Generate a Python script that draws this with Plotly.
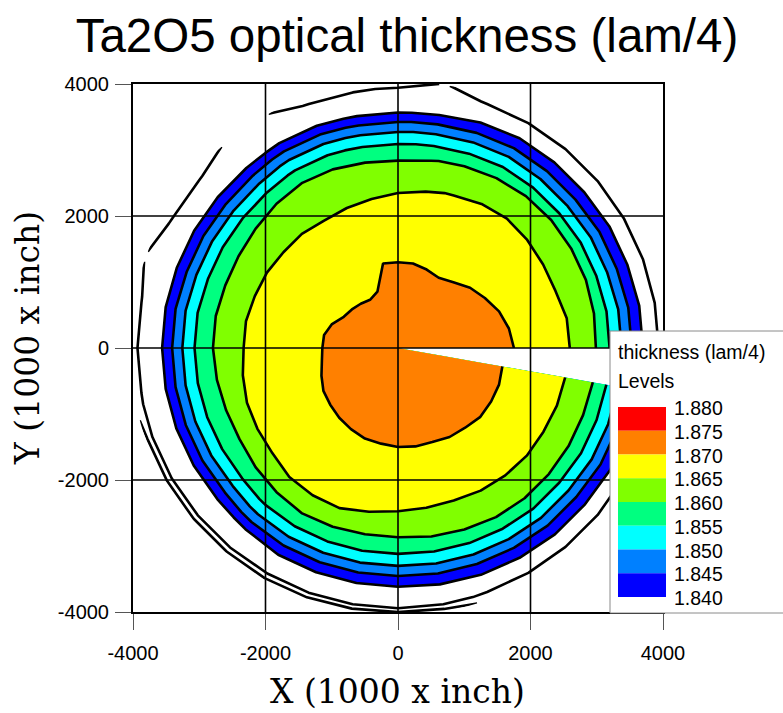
import numpy as np
import plotly.graph_objects as go

# ---------------- data ----------------
# polar measurement grid of the wafer: radius (1000 x inch) and angle (deg)
radius = [0, 700, 1300, 1900, 2450, 2900, 3100, 3280, 3430, 3570, 3750, 3940, 4050]
angle_deg = [0, 10, 20, 30, 40, 50, 60, 70, 80, 90, 100, 110, 120, 130, 140, 150, 160, 170,
             180, 190, 200, 210, 220, 230, 240, 250, 260, 270, 280, 290, 300, 310, 320, 330, 340, 350]

# optical thickness (lam/4): one row per angle, one column per radius
thickness = [
    [1.8735, 1.8721, 1.8709, 1.8697, 1.8664, 1.8620, 1.8574, 1.8528, 1.8484, 1.8436, 1.8385, 1.8349, 1.8320],
    [1.8735, 1.8721, 1.8708, 1.8696, 1.8660, 1.8627, 1.8575, 1.8528, 1.8484, 1.8436, 1.8385, 1.8349, 1.8320],
    [1.8735, 1.8720, 1.8707, 1.8694, 1.8653, 1.8636, 1.8575, 1.8523, 1.8479, 1.8430, 1.8383, 1.8349, 1.8320],
    [1.8735, 1.8719, 1.8705, 1.8691, 1.8653, 1.8636, 1.8575, 1.8523, 1.8479, 1.8430, 1.8383, 1.8349, 1.8320],
    [1.8735, 1.8718, 1.8703, 1.8688, 1.8653, 1.8639, 1.8573, 1.8519, 1.8474, 1.8424, 1.8381, 1.8349, 1.8320],
    [1.8735, 1.8716, 1.8700, 1.8676, 1.8656, 1.8631, 1.8571, 1.8519, 1.8474, 1.8424, 1.8381, 1.8349, 1.8320],
    [1.8735, 1.8715, 1.8698, 1.8674, 1.8656, 1.8618, 1.8568, 1.8519, 1.8474, 1.8424, 1.8381, 1.8349, 1.8320],
    [1.8735, 1.8716, 1.8699, 1.8674, 1.8651, 1.8607, 1.8559, 1.8511, 1.8464, 1.8413, 1.8378, 1.8349, 1.8320],
    [1.8735, 1.8716, 1.8700, 1.8673, 1.8648, 1.8598, 1.8552, 1.8503, 1.8454, 1.8402, 1.8376, 1.8356, 1.8354],
    [1.8735, 1.8716, 1.8700, 1.8672, 1.8645, 1.8593, 1.8548, 1.8498, 1.8448, 1.8399, 1.8375, 1.8351, 1.8320],
    [1.8735, 1.8716, 1.8700, 1.8670, 1.8642, 1.8595, 1.8548, 1.8498, 1.8448, 1.8399, 1.8375, 1.8349, 1.8320],
    [1.8735, 1.8708, 1.8685, 1.8663, 1.8643, 1.8598, 1.8552, 1.8503, 1.8454, 1.8402, 1.8376, 1.8349, 1.8320],
    [1.8735, 1.8706, 1.8681, 1.8662, 1.8642, 1.8599, 1.8552, 1.8503, 1.8454, 1.8402, 1.8376, 1.8356, 1.8354],
    [1.8735, 1.8707, 1.8683, 1.8663, 1.8643, 1.8595, 1.8544, 1.8493, 1.8443, 1.8397, 1.8374, 1.8356, 1.8354],
    [1.8735, 1.8708, 1.8685, 1.8663, 1.8643, 1.8589, 1.8540, 1.8488, 1.8437, 1.8395, 1.8373, 1.8349, 1.8320],
    [1.8735, 1.8709, 1.8687, 1.8664, 1.8644, 1.8584, 1.8540, 1.8488, 1.8437, 1.8395, 1.8373, 1.8349, 1.8320],
    [1.8735, 1.8712, 1.8692, 1.8666, 1.8644, 1.8583, 1.8540, 1.8488, 1.8437, 1.8395, 1.8373, 1.8356, 1.8354],
    [1.8735, 1.8713, 1.8695, 1.8668, 1.8645, 1.8586, 1.8544, 1.8493, 1.8443, 1.8397, 1.8374, 1.8349, 1.8320],
    [1.8735, 1.8714, 1.8695, 1.8668, 1.8645, 1.8586, 1.8544, 1.8493, 1.8443, 1.8397, 1.8374, 1.8349, 1.8320],
    [1.8735, 1.8714, 1.8696, 1.8670, 1.8647, 1.8582, 1.8544, 1.8493, 1.8443, 1.8397, 1.8374, 1.8349, 1.8320],
    [1.8735, 1.8715, 1.8698, 1.8672, 1.8649, 1.8578, 1.8544, 1.8493, 1.8443, 1.8397, 1.8374, 1.8353, 1.8285],
    [1.8735, 1.8716, 1.8700, 1.8673, 1.8650, 1.8578, 1.8544, 1.8493, 1.8443, 1.8397, 1.8374, 1.8353, 1.8285],
    [1.8735, 1.8717, 1.8701, 1.8684, 1.8654, 1.8586, 1.8544, 1.8493, 1.8443, 1.8397, 1.8374, 1.8353, 1.8285],
    [1.8735, 1.8717, 1.8702, 1.8687, 1.8667, 1.8592, 1.8552, 1.8503, 1.8454, 1.8402, 1.8376, 1.8353, 1.8285],
    [1.8735, 1.8718, 1.8703, 1.8688, 1.8670, 1.8599, 1.8555, 1.8507, 1.8459, 1.8408, 1.8377, 1.8353, 1.8285],
    [1.8735, 1.8718, 1.8704, 1.8689, 1.8672, 1.8597, 1.8555, 1.8507, 1.8459, 1.8408, 1.8377, 1.8353, 1.8280],
    [1.8735, 1.8718, 1.8704, 1.8690, 1.8660, 1.8595, 1.8555, 1.8507, 1.8459, 1.8408, 1.8377, 1.8352, 1.8270],
    [1.8735, 1.8719, 1.8705, 1.8690, 1.8653, 1.8596, 1.8555, 1.8507, 1.8459, 1.8408, 1.8377, 1.8352, 1.8260],
    [1.8735, 1.8719, 1.8705, 1.8691, 1.8651, 1.8600, 1.8558, 1.8511, 1.8464, 1.8413, 1.8378, 1.8352, 1.8275],
    [1.8735, 1.8719, 1.8705, 1.8691, 1.8651, 1.8606, 1.8562, 1.8515, 1.8469, 1.8419, 1.8380, 1.8349, 1.8310],
    [1.8735, 1.8719, 1.8706, 1.8692, 1.8654, 1.8614, 1.8566, 1.8519, 1.8474, 1.8424, 1.8381, 1.8349, 1.8320],
    [1.8735, 1.8720, 1.8706, 1.8693, 1.8656, 1.8617, 1.8570, 1.8523, 1.8479, 1.8430, 1.8383, 1.8349, 1.8320],
    [1.8735, 1.8720, 1.8707, 1.8694, 1.8658, 1.8617, 1.8570, 1.8523, 1.8479, 1.8430, 1.8383, 1.8349, 1.8320],
    [1.8735, 1.8720, 1.8707, 1.8694, 1.8658, 1.8616, 1.8572, 1.8528, 1.8484, 1.8436, 1.8385, 1.8349, 1.8320],
    [1.8735, 1.8720, 1.8707, 1.8694, 1.8660, 1.8616, 1.8572, 1.8528, 1.8484, 1.8436, 1.8385, 1.8349, 1.8320],
    [1.8735, 1.8720, 1.8707, 1.8693, 1.8660, 1.8620, 1.8574, 1.8528, 1.8484, 1.8436, 1.8385, 1.8349, 1.8320],
]

# contour levels (lines) and the coloured levels shown in the legend
contour_start, contour_end, contour_step = 1.830, 1.880, 0.005
legend_levels = [1.840, 1.845, 1.850, 1.855, 1.860, 1.865, 1.870, 1.875, 1.880]
level_colors = ["#0000FF", "#0080FF", "#00FFFF", "#00FF80",
                "#80FF00", "#FFFF00", "#FF8000", "#FF0000"]

tick_vals = [-4000, -2000, 0, 2000, 4000]
grid_vals = [-2000, 0, 2000]

title_text = "Ta2O5 optical thickness (lam/4)"
x_title = "X (1000 x inch)"
y_title = "Y (1000 x inch)"
legend_title = "thickness (lam/4)"
legend_sub = "Levels"

# ---------------- layout geometry (pixels) ----------------
W, H = 783, 713
ML, MR, MT, MB = 133, 120, 84, 101
PW, PH = W - ML - MR, H - MT - MB


def px2x(px):
    return (px - ML) / PW


def py2y(py):
    return (H - MB - py) / PH


SANS = "Arial, Liberation Sans, sans-serif"
SERIF = "DejaVu Serif, serif"

# ---------------- colour scale for filled contours ----------------
n_lev = int(round((contour_end - contour_start) / contour_step)) + 1
lo = contour_start - contour_step / 2.0
span = n_lev * contour_step


def pos(v):
    return round((v - lo) / span, 6)


colorscale = [[0.0, "#FFFFFF"], [pos(legend_levels[0]), "#FFFFFF"]]
for i, col in enumerate(level_colors):
    colorscale.append([pos(legend_levels[i]), col])
    colorscale.append([pos(legend_levels[i + 1]), col])
colorscale.append([1.0, level_colors[-1]])

# ---------------- carpet (polar grid) ----------------
r = np.asarray(radius, dtype=float)
th = np.deg2rad(np.asarray(angle_deg, dtype=float))
X = np.outer(np.cos(th), r)
Y = np.outer(np.sin(th), r)

hidden_axis = dict(showgrid=False, showline=False, startline=False, endline=False,
                   showticklabels="none", minorgridcount=0)

fig = go.Figure()
fig.add_trace(go.Carpet(
    a=radius, b=angle_deg, x=X.tolist(), y=Y.tolist(), carpet="wafer",
    aaxis=dict(hidden_axis, smoothing=0),
    baxis=dict(hidden_axis, smoothing=1),
))
fig.add_trace(go.Contourcarpet(
    carpet="wafer", a=radius, b=angle_deg, z=thickness,
    autocontour=False,
    contours=dict(start=contour_start, end=contour_end, size=contour_step,
                  coloring="fill", showlines=True),
    line=dict(color="black", width=2.6, smoothing=0),
    colorscale=colorscale, showscale=False,
))

# ---------------- grid lines drawn over the map ----------------
shapes = []
for v in grid_vals:
    shapes.append(dict(type="line", xref="x", yref="paper", x0=v, x1=v, y0=0, y1=1,
                       line=dict(color="black", width=1.6), layer="above"))
    shapes.append(dict(type="line", xref="paper", yref="y", x0=0, x1=1, y0=v, y1=v,
                       line=dict(color="black", width=1.6), layer="above"))

# ---------------- legend box ----------------
annotations = []
box_left, box_top, box_bottom = 610, 331, 613
shapes.append(dict(type="rect", xref="paper", yref="paper",
                   x0=px2x(box_left), x1=px2x(W + 20), y0=py2y(box_bottom), y1=py2y(box_top),
                   fillcolor="white", line=dict(color="#8a8a8a", width=1), layer="above"))
annotations.append(dict(xref="paper", yref="paper", x=px2x(616), y=py2y(352),
                        xanchor="left", yanchor="middle", showarrow=False,
                        text=legend_title, font=dict(family=SANS, size=19.5, color="black")))
annotations.append(dict(xref="paper", yref="paper", x=px2x(616), y=py2y(381),
                        xanchor="left", yanchor="middle", showarrow=False,
                        text=legend_sub, font=dict(family=SANS, size=19.5, color="black")))

sw_top, sw_h, sw_left, sw_right = 407.0, 23.75, 618, 666
n_sw = len(level_colors)
for k in range(n_sw):
    col = level_colors[n_sw - 1 - k]
    shapes.append(dict(type="rect", xref="paper", yref="paper",
                       x0=px2x(sw_left), x1=px2x(sw_right),
                       y0=py2y(sw_top + (k + 1) * sw_h), y1=py2y(sw_top + k * sw_h),
                       fillcolor=col, line=dict(width=0), layer="above"))
for k, lev in enumerate(reversed(legend_levels)):
    annotations.append(dict(xref="paper", yref="paper", x=px2x(672), y=py2y(sw_top + k * sw_h + 1),
                            xanchor="left", yanchor="middle", showarrow=False,
                            text=f"{lev:.3f}", font=dict(family=SANS, size=19.5, color="black")))

# axis titles
annotations.append(dict(xref="paper", yref="paper", x=px2x(397), y=py2y(691),
                        xanchor="center", yanchor="middle", showarrow=False,
                        text=x_title, font=dict(family=SERIF, size=33, color="black")))
annotations.append(dict(xref="paper", yref="paper", x=px2x(27), y=py2y(338),
                        xanchor="center", yanchor="middle", showarrow=False, textangle=-90,
                        text=y_title, font=dict(family=SERIF, size=33, color="black")))

axis_common = dict(
    range=[-4000, 4000], tickvals=tick_vals, ticktext=[str(v) for v in tick_vals],
    ticks="outside", ticklen=16, tickwidth=1, tickcolor="#555555",
    showgrid=False, zeroline=False, showline=True, mirror=True,
    linecolor="black", linewidth=2, layer="above traces",
    tickfont=dict(family=SANS, size=20, color="black"),
    automargin=False, fixedrange=True,
)

fig.update_layout(
    template="none",
    width=W, height=H,
    margin=dict(l=ML, r=MR, t=MT, b=MB, pad=0),
    paper_bgcolor="white", plot_bgcolor="white",
    showlegend=False,
    title=dict(text=title_text, xref="container", yref="container",
               x=407 / W, y=1 - 35 / H, xanchor="center", yanchor="middle",
               font=dict(family=SANS, size=47.5, color="black")),
    xaxis=dict(axis_common, ticklabelstandoff=6),
    yaxis=dict(axis_common, ticklabelstandoff=2),
    shapes=shapes,
    annotations=annotations,
)

fig.write_html("out.html")
